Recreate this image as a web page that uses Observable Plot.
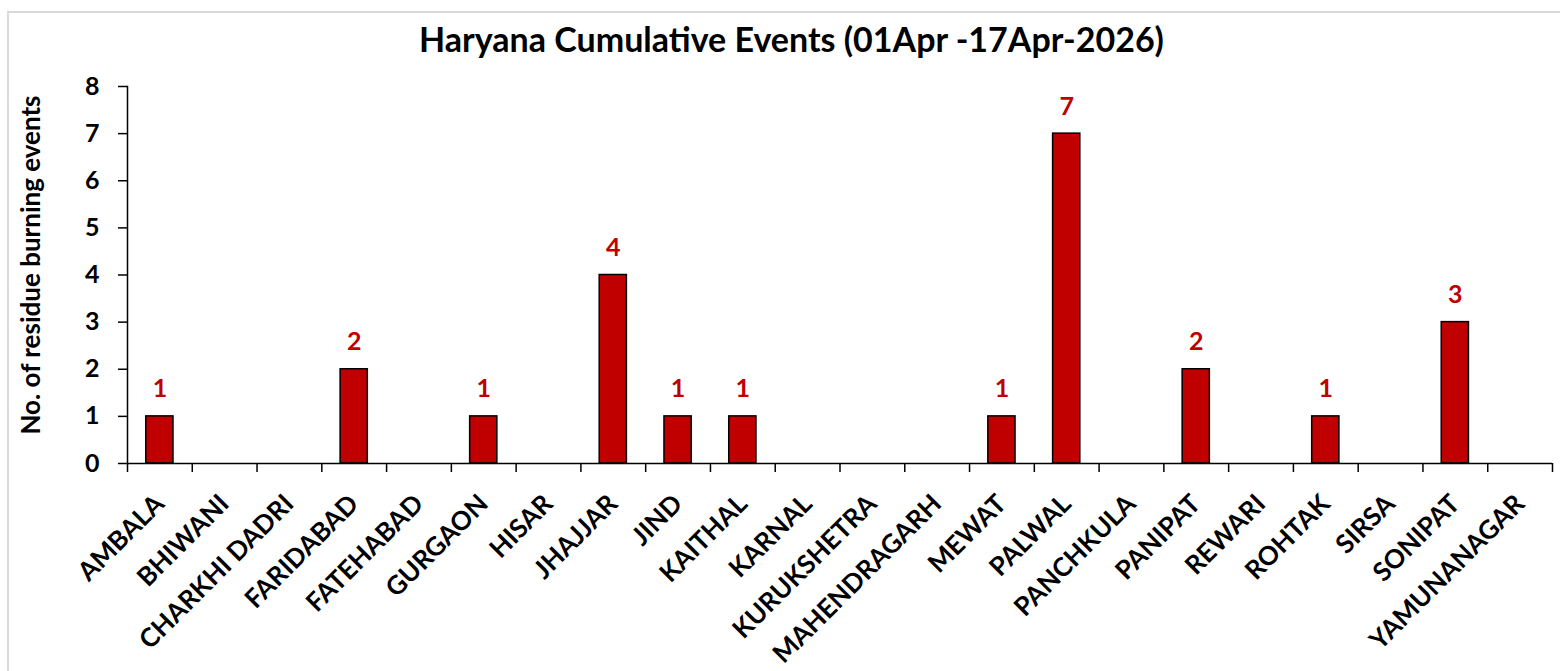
<!DOCTYPE html>
<html>
<head>
<meta charset="utf-8">
<script src="https://cdn.jsdelivr.net/npm/d3@7"></script>
<script src="https://cdn.jsdelivr.net/npm/@observablehq/plot@0.6"></script>
<style>
  html, body { margin: 0; padding: 0; background: #fff; }
  #wrap { position: relative; width: 1560px; height: 671px; overflow: hidden; font-family: Lato, "Open Sans", sans-serif; }
  #border { position: absolute; left: 7px; top: 11px; width: 1600px; height: 700px; border: 2px solid #d9d9d9; box-sizing: border-box; }
  #title { position: absolute; left: 0; top: 19px; width: 1583px; text-align: center; font-weight: 700; font-size: 34px; line-height: 40px; color: #000; white-space: nowrap; }
  #chart { position: absolute; left: 0; top: 70px; width: 1560px; }
  #chart svg { overflow: visible; display: block; }
</style>
</head>
<body>
<div id="wrap">
  <div id="border"></div>
  <div id="title">Haryana Cumulative Events (01Apr -17Apr-2026)</div>
  <div id="chart"></div>
</div>
<script>
const districts = ["AMBALA","BHIWANI","CHARKHI DADRI","FARIDABAD","FATEHABAD","GURGAON","HISAR","JHAJJAR","JIND","KAITHAL","KARNAL","KURUKSHETRA","MAHENDRAGARH","MEWAT","PALWAL","PANCHKULA","PANIPAT","REWARI","ROHTAK","SIRSA","SONIPAT","YAMUNANAGAR"];
const events = [1,0,0,2,0,1,0,4,1,1,0,0,0,1,7,0,2,0,1,0,3,0];
const yTicks = [0,1,2,3,4,5,6,7,8];
const yLabel = "No. of residue burning events";

const data = districts.map((d, i) => ({district: d, value: events[i]}));
const nonZero = data.filter(d => d.value > 0);

const W = 1560, H = 601;
const mL = 127, mR = 8, mT = 16, mB = 208;
const step = (W - mL - mR) / districts.length;
const red = "#C00000";
const font = "Lato, 'Open Sans', sans-serif";

const chart = Plot.plot({
  width: W, height: H,
  marginLeft: mL, marginRight: mR, marginTop: mT, marginBottom: mB,
  style: {fontFamily: font, background: "transparent"},
  x: {type: "band", domain: districts, paddingInner: 0.58, paddingOuter: 0.29, round: false, axis: null},
  y: {domain: [0, 8], axis: null},
  marks: [
    Plot.barY(nonZero, {x: "district", y: "value", fill: red, stroke: "#000", strokeWidth: 1.5}),
    Plot.ruleY([0], {stroke: "#000", strokeWidth: 1.5}),
    Plot.frame({anchor: "left", stroke: "#000", strokeWidth: 1.5}),
    // y axis ticks and labels
    Plot.axisY(yTicks, {ticks: yTicks, tickSize: 9, tickPadding: 19, fontSize: 25, fontWeight: 700, fill: "#000", stroke: "#000", strokeWidth: 1.5, label: null}),
    // x boundary ticks (Excel-style, between categories)
    Plot.axisX(districts, {ticks: districts, tickSize: 9, dx: -step / 2, text: null, label: null, strokeWidth: 1.5}),
    Plot.axisX([districts[districts.length - 1]], {ticks: [districts[districts.length - 1]], tickSize: 9, dx: step / 2, text: null, label: null, strokeWidth: 1.5}),
    // x labels rotated
    Plot.text(districts, {x: d => d, text: d => d, frameAnchor: "bottom", rotate: -45, textAnchor: "end", lineAnchor: "middle", dy: 36, dx: 0, fontSize: 26, fontWeight: 700, fill: "#000"}),
    // value labels
    Plot.text(nonZero, {x: "district", y: "value", text: d => String(d.value), dy: -19, lineAnchor: "bottom", fontSize: 25, fontWeight: 700, fill: red}),
    // y label
    Plot.text([yLabel], {frameAnchor: "left", text: d => d, rotate: -90, dx: -96, dy: -10, textAnchor: "middle", fontSize: 26, fontWeight: 700, fill: "#000"})
  ]
});
document.getElementById("chart").appendChild(chart);
</script>
</body>
</html>
